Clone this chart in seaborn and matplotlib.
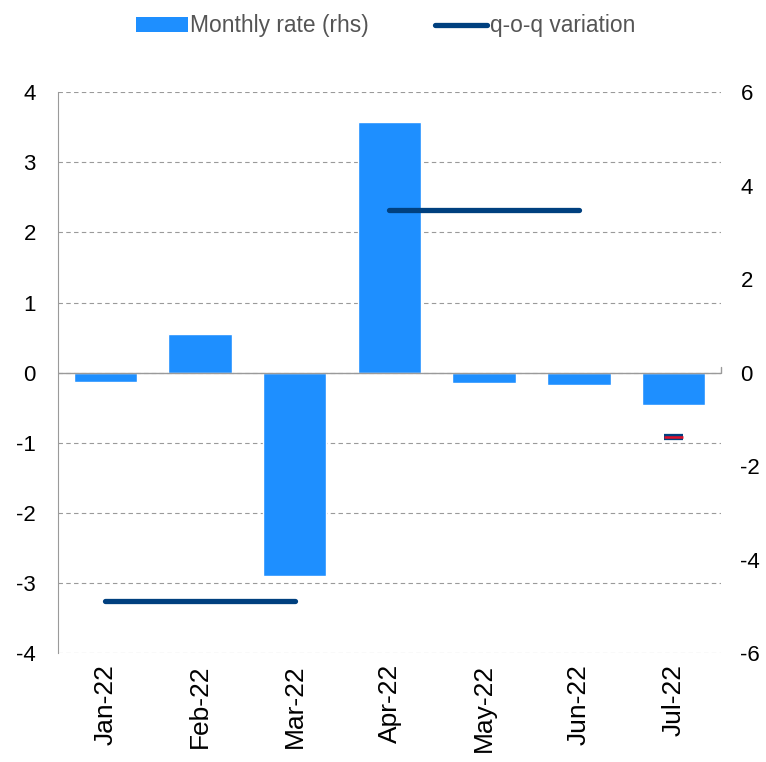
import numpy as np
import pandas as pd
import matplotlib
matplotlib.use('Agg')
import matplotlib.pyplot as plt
import seaborn as sns
from matplotlib.patches import Patch
from matplotlib.lines import Line2D

# Data
months = ['Jan-22', 'Feb-22', 'Mar-22', 'Apr-22', 'May-22', 'Jun-22', 'Jul-22']
monthly_rate = [-0.21, 0.82, -4.35, 5.36, -0.22, -0.27, -0.69]  # rhs scale
qoq_values = [-3.26, 2.32, -0.92]                               # lhs scale
qoq_start = ['Jan-22', 'Apr-22', 'Jul-22']
qoq_end = ['Mar-22', 'Jun-22', 'Jul-22']

bar_color = '#1E8FFF'
line_color = '#00407F'
grid_color = '#9a9a9a'

sns.set_style('white')
plt.rcParams['font.family'] = ['Liberation Sans', 'DejaVu Sans']
plt.rcParams['axes.unicode_minus'] = False

df = pd.DataFrame({'month': months, 'rate': monthly_rate})

fig = plt.figure(figsize=(7.66, 7.62), dpi=100)
ax = fig.add_axes([0.0757, 0.143, 0.8655, 0.736])

# Bars on the right-hand scale
sns.barplot(data=df, x='month', y='rate', color=bar_color, saturation=1,
            width=0.67, ax=ax, zorder=2)
ax.set_ylim(-6, 6)
ax.set_yticks(np.arange(-6, 7, 2))
ax.set_yticks(np.arange(-6, 6.1, 1.5), minor=True)
ax.yaxis.remove_overlapping_locs = False
ax.grid(which='minor', axis='y', linestyle=(0, (4, 3)), color=grid_color, lw=0.8)
ax.grid(which='major', axis='y', visible=False)
ax.set_axisbelow(True)
ax.tick_params(axis='x', length=0, labelsize=19, rotation=90, pad=8, labelcolor='black')
ax.set_xlim(-0.5, len(months) - 0.5)
ax.set_xlabel('')
ax.set_ylabel('')
ax.axhline(0, color=grid_color, lw=1, zorder=3)
for s in ax.spines.values():
    s.set_visible(False)

# q-o-q variation on the left-hand scale
ax2 = ax.twinx()
ax.yaxis.tick_right()
ax.tick_params(axis='y', which='both', length=0, labelsize=16, pad=14, labelcolor='black')
ax2.yaxis.tick_left()
ax2.set_ylim(-4, 4)
ax2.set_yticks(np.arange(-4, 5, 1))
ax2.tick_params(axis='y', length=0, labelsize=16, pad=16, labelcolor='black')
for s in ax2.spines.values():
    s.set_visible(False)
ax2.spines['left'].set_visible(True)
ax2.spines['left'].set_color(grid_color)

for v, a, b in zip(qoq_values, qoq_start, qoq_end):
    i0, i1 = months.index(a), months.index(b)
    if i0 == i1:
        xs = [i0 - 0.1, i1 + 0.1]
        ax2.plot(xs, [v, v], color=line_color, lw=4.5, solid_capstyle='butt')
        ax2.plot(xs, [v, v], color='#E0102A', lw=1.8, solid_capstyle='butt')
    else:
        ax2.plot([i0, i1], [v, v], color=line_color, lw=3.8, solid_capstyle='round')

# small tick at the right end of the zero line
ax.plot([len(months) - 0.5, len(months) - 0.5], [0, 0.12], color=grid_color, lw=1, clip_on=False)

handles = [Patch(facecolor=bar_color, edgecolor='none'),
           Line2D([0], [0], color=line_color, lw=3.8, solid_capstyle='round')]
fig.legend(handles, ['Monthly rate (rhs)', 'q-o-q variation'], loc='upper center',
           bbox_to_anchor=(0.503, 1.008), ncol=2, frameon=False, fontsize=16.4,
           handlelength=2.3, handleheight=0.6, handletextpad=0.1, columnspacing=2.9,
           labelcolor='#555555')

fig.savefig('out.png', dpi=100)
